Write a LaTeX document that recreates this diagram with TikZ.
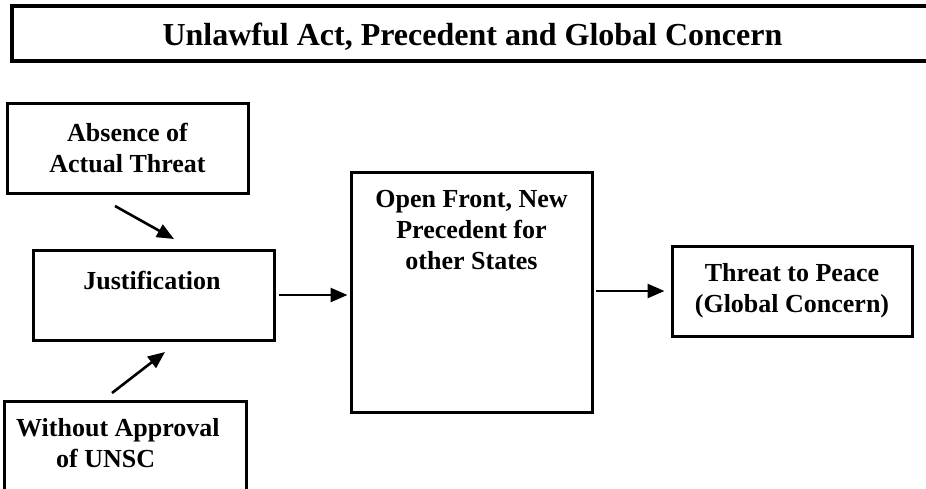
\documentclass[tikz,border=0pt]{standalone}
\usepackage{fontspec}
\setmainfont{Liberation Serif}
\usetikzlibrary{arrows.meta}
\begin{document}
\begin{tikzpicture}[x=1pt,y=1pt,
  frame/.style={draw=black, line width=3pt, fill=none, inner sep=0pt},
  txt/.style={font=\fontsize{26}{31}\selectfont\bfseries, align=center, inner sep=0pt},
  arr/.style={line width=2.6pt, -{Triangle[length=17pt,width=14pt]}}]
\useasboundingbox (0,0) rectangle (926,-488);
\fill[white] (0,0) rectangle (926,-488);

% heading bar (runs off the right edge)
\draw[line width=3.4pt] (940,-6) -- (12,-6) -- (12,-61) -- (940,-61);
\node[inner sep=0pt, font=\fontsize{32}{38}\selectfont\bfseries] (title) at (472.5,-37) {Unlawful Act, Precedent and Global Concern};

% boxes
\node[frame, minimum width=241pt, minimum height=90pt] (absence) at (127.5,-148) {};
\node[txt] (absencetxt) at (absence.center) {Absence of\\Actual Threat};

\node[frame, minimum width=241pt, minimum height=90pt] (just) at (153.5,-295) {};
\node[txt] (justtxt) at (152,-280) {Justification};

\node[frame, minimum width=241pt, minimum height=240pt] (openf) at (471.5,-292) {};
\node[txt] (openftxt) at (471.5,-230) {Open Front, New\\Precedent for\\other States};

\node[frame, minimum width=240pt, minimum height=90pt] (threat) at (792,-291) {};
\node[txt] (threattxt) at (threat.center) {Threat to Peace\\(Global Concern)};

\node[frame, minimum width=242pt, minimum height=130pt] (without) at (125,-466) {};
\node[txt, align=left, anchor=north west] (withouttxt) at (16,-418) {Without Approval\\\hspace*{40pt}of UNSC};

% connectors
\coordinate (a1s) at (115,-206);
\coordinate (a1e) at (174,-239);
\coordinate (a2s) at (112,-393);
\coordinate (a2e) at (165,-352);
\draw[arr] (a1s) -- (a1e);
\draw[arr] (a2s) -- (a2e);
\draw[arr, shorten <=3pt, shorten >=2pt] (just.east) -- (openf.west |- just.east);
\draw[arr, shorten <=2pt, shorten >=6pt] (openf.east |- threat.west) -- (threat.west);
\end{tikzpicture}
\end{document}
